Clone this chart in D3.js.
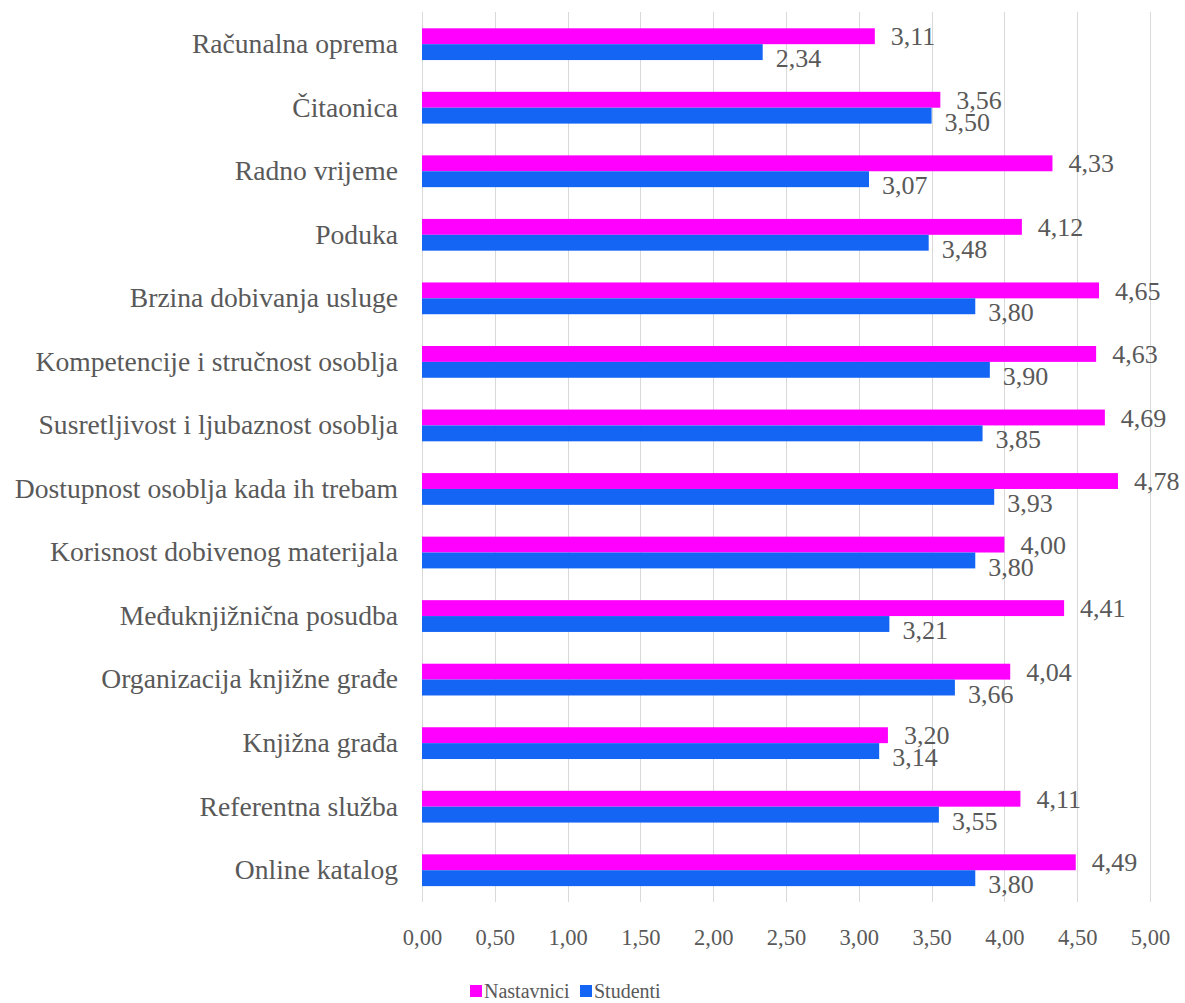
<!DOCTYPE html>
<html><head><meta charset="utf-8">
<script src="https://cdn.jsdelivr.net/npm/d3@7"></script>
<style>body{margin:0;background:#fff}svg{display:block}</style>
</head><body><svg id="c" width="1185" height="1003"></svg>
<script>
const categories = ["Računalna oprema","Čitaonica","Radno vrijeme","Poduka","Brzina dobivanja usluge","Kompetencije i stručnost osoblja","Susretljivost i ljubaznost osoblja","Dostupnost osoblja kada ih trebam","Korisnost dobivenog materijala","Međuknjižnična posudba","Organizacija knjižne građe","Knjižna građa","Referentna služba","Online katalog"];
const nastavnici = [3.11,3.56,4.33,4.12,4.65,4.63,4.69,4.78,4.00,4.41,4.04,3.20,4.11,4.49];
const studenti = [2.34,3.50,3.07,3.48,3.80,3.90,3.85,3.93,3.80,3.21,3.66,3.14,3.55,3.80];
const seriesNames = ["Nastavnici","Studenti"];
const seriesColors = ["#ff00ff","#1565f5"];
const tickValues = [0,0.5,1,1.5,2,2.5,3,3.5,4,4.5,5];

const FONT = "Liberation Serif";
const TXT = "#595959";
const svg = d3.select("#c");
const fmt = v => d3.format(".2f")(v).replace(".", ",");
const x = d3.scaleLinear().domain([0,5]).range([422,1150]);
const y = d3.scaleBand().domain(categories).range([12.4,902]).paddingInner(0.5).paddingOuter(0.25);
const ys = d3.scaleBand().domain(seriesNames).range([0,y.bandwidth()]);
const series = [nastavnici, studenti];

// gridlines
svg.append("g").selectAll("line").data(tickValues).join("line")
  .attr("x1",d=>Math.round(x(d))+0.5).attr("x2",d=>Math.round(x(d))+0.5).attr("y1",12).attr("y2",902)
  .attr("stroke","#d9d9d9").attr("stroke-width",1);

// x axis labels
const xAxis = d3.axisBottom(x).tickValues(tickValues).tickFormat(fmt).tickSize(0).tickPadding(27);
const gx = svg.append("g").attr("transform","translate(0,902)").call(xAxis);
gx.select(".domain").remove();
gx.selectAll("text").attr("fill",TXT).style("font-family",FONT).style("font-size","22.5px");

// y axis labels
const yAxis = d3.axisLeft(y).tickSize(0).tickPadding(24);
const gy = svg.append("g").attr("transform","translate(422,0)").call(yAxis);
gy.select(".domain").remove();
gy.selectAll("text").attr("fill",TXT).style("font-family",FONT).style("font-size","27.6px");

// bars
series.forEach((vals,si)=>{
  svg.append("g").selectAll("rect").data(categories).join("rect")
    .attr("x",x(0)).attr("y",(c)=>y(c)+ys(seriesNames[si]))
    .attr("width",(c,i)=>x(vals[i])-x(0)).attr("height",ys.bandwidth())
    .attr("fill",seriesColors[si]);
});

// data labels
const lab = svg.append("g");
categories.forEach((c,i)=>{
  const yn = y(c)+ys("Nastavnici")+ys.bandwidth()/2;
  const yst = y(c)+ys("Studenti")+ys.bandwidth()/2;
  lab.append("text").attr("x",x(nastavnici[i])+16).attr("y",yn).attr("dy","0.35em")
    .attr("fill",TXT).style("font-family",FONT).style("font-size","26px").text(fmt(nastavnici[i]));
  lab.append("text").attr("x",x(studenti[i])+13).attr("y",yst+6).attr("dy","0.35em")
    .attr("fill",TXT).style("font-family",FONT).style("font-size","26px").text(fmt(studenti[i]));
});

// legend
const lg = svg.append("g");
const legX = [470,580];
seriesNames.forEach((n,i)=>{
  lg.append("rect").attr("x",legX[i]).attr("y",985).attr("width",12).attr("height",12).attr("fill",seriesColors[i]);
  lg.append("text").attr("x",legX[i]+14).attr("y",991).attr("dy","0.35em")
    .attr("fill",TXT).style("font-family",FONT).style("font-size","20px").text(n);
});
</script></body></html>
